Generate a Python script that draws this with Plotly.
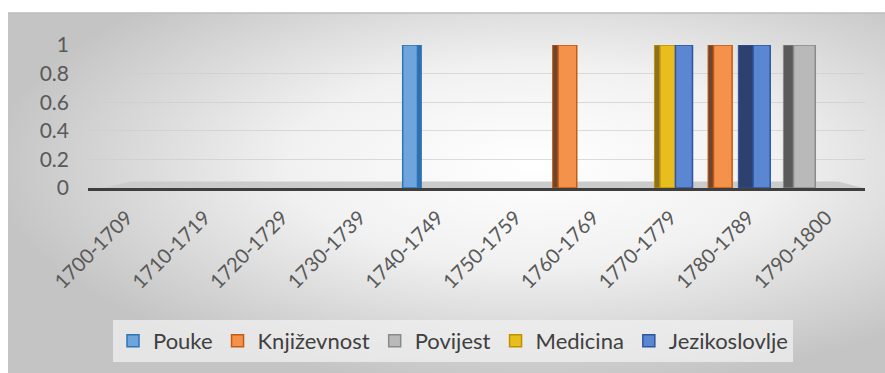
import base64
import plotly.graph_objects as go

# Decades on the category axis
decades = ["1700-1709", "1710-1719", "1720-1729", "1730-1739", "1740-1749",
           "1750-1759", "1760-1769", "1770-1779", "1780-1789", "1790-1800"]

# Number of works per decade for each field
pouke =         [0, 0, 0, 0, 1, 0, 0, 0, 0, 0]
knjizevnost =   [0, 0, 0, 0, 0, 0, 1, 0, 1, 0]
povijest =      [0, 0, 0, 0, 0, 0, 0, 0, 0, 1]
medicina =      [0, 0, 0, 0, 0, 0, 0, 1, 0, 0]
jezikoslovlje = [0, 0, 0, 0, 0, 0, 0, 1, 1, 0]

y_ticks = [0, 0.2, 0.4, 0.6, 0.8, 1]
y_tick_text = ["0", "0.2", "0.4", "0.6", "0.8", "1"]

# name, values, front fill, outline, side fill, front offset/width, side offset/width
series = [
    ("Pouke", pouke, "#6fa5dc", "#2e75b6", "#2f6eb0", (-0.45, 0.19), (-0.26, 0.05)),
    ("Književnost", knjizevnost, "#f4924c", "#c55a11", "#6e4630", (-0.45, 0.24), (-0.52, 0.08)),
    ("Povijest", povijest, "#b9b9b9", "#8a8a8a", "#5a5a5a", (-0.42, 0.28), (-0.55, 0.13)),
    ("Medicina", medicina, "#e8bd1e", "#bf9000", "#8a7222", (-0.14, 0.23), (-0.21, 0.08)),
    ("Jezikoslovlje", jezikoslovlje, "#5b86d2", "#2f55a0", "#2d4170", (0.06, 0.22), (-0.13, 0.20)),
]


def nonzero(vals):
    # empty decades get no bar at all (avoids outlines on zero-height bars)
    return [v if v else None for v in vals]


fig = go.Figure()

# Shaded side faces first, so the front faces sit on top of them
for name, vals, front, line, side, _, (s_off, s_w) in reversed(series):
    fig.add_trace(go.Bar(
        x=decades, y=nonzero(vals), name=name, legendgroup=name, showlegend=False,
        offset=s_off, width=s_w,
        marker=dict(color=side, line=dict(color=line, width=1)),
        hoverinfo="skip",
    ))

for name, vals, front, line, side, (f_off, f_w), _ in series:
    fig.add_trace(go.Bar(
        x=decades, y=nonzero(vals), name=name, legendgroup=name,
        offset=f_off, width=f_w,
        marker=dict(color=front, line=dict(color=line, width=1.5)),
    ))

# Soft grey chart-area background
svg = (
    "<svg xmlns='http://www.w3.org/2000/svg' width='877' height='360' preserveAspectRatio='none'>"
    "<defs><radialGradient id='g' cx='0.6' cy='0.42' r='0.62'>"
    "<stop offset='0' stop-color='#ffffff'/>"
    "<stop offset='0.45' stop-color='#f1f1f1'/>"
    "<stop offset='1' stop-color='#c4c4c4'/>"
    "</radialGradient></defs>"
    "<rect width='877' height='360' fill='url(#g)'/></svg>"
)
bg_src = "data:image/svg+xml;base64," + base64.b64encode(svg.encode()).decode()

W, H = 885, 373
L, R, T, B = 88, 20, 45, 185
pw, ph = W - L - R, H - T - B


def px_x(p):
    return (p - L) / pw


def px_y(p):
    return (H - B - p) / ph


fig.add_layout_image(dict(
    source=bg_src, xref="paper", yref="paper",
    x=px_x(8), y=px_y(13), sizex=px_x(885) - px_x(8), sizey=px_y(13) - px_y(373),
    xanchor="left", yanchor="top", sizing="stretch", layer="below",
))

shapes = [
    # chart-area top border
    dict(type="line", xref="paper", yref="paper", x0=px_x(8), x1=px_x(885),
         y0=px_y(13), y1=px_y(13), line=dict(color="#bdbdbd", width=1.5)),
    # floor of the 3D plot
    dict(type="path", xref="x domain", yref="y",
         path="M 0.02,0 L 0.055,0.045 L 0.965,0.045 L 0.998,0 Z",
         fillcolor="#cbcbcb", line=dict(width=0), layer="below"),
]

fig.update_layout(
    width=W, height=H,
    margin=dict(l=L, r=R, t=T, b=B),
    paper_bgcolor="white",
    plot_bgcolor="rgba(0,0,0,0)",
    barmode="overlay",
    shapes=shapes,
    font=dict(family="Lato", color="#595959", size=19),
    showlegend=True,
    legend=dict(
        orientation="h", x=px_x(453), y=px_y(341), xanchor="center", yanchor="middle",
        bgcolor="rgba(240,240,240,0.75)", font=dict(size=22, color="#404040"),
        itemwidth=30, traceorder="normal",
    ),
    xaxis=dict(
        type="category", categoryorder="array", categoryarray=decades,
        range=[-0.5, 9.5], showgrid=False,
        ticks="outside", ticklen=7, tickcolor="rgba(0,0,0,0)",
        showline=True, linecolor="#3f3f3f", linewidth=3,
        tickangle=-45, tickfont=dict(size=20, color="#595959"),
    ),
    yaxis=dict(
        range=[0, 1], tickvals=y_ticks, ticktext=y_tick_text,
        showgrid=True, gridcolor="rgba(205,205,205,0.7)", gridwidth=1,
        zeroline=False, ticks="", ticklen=0, ticklabelstandoff=18,
        tickfont=dict(size=21, color="#595959"),
    ),
)

fig.write_html("out.html")
